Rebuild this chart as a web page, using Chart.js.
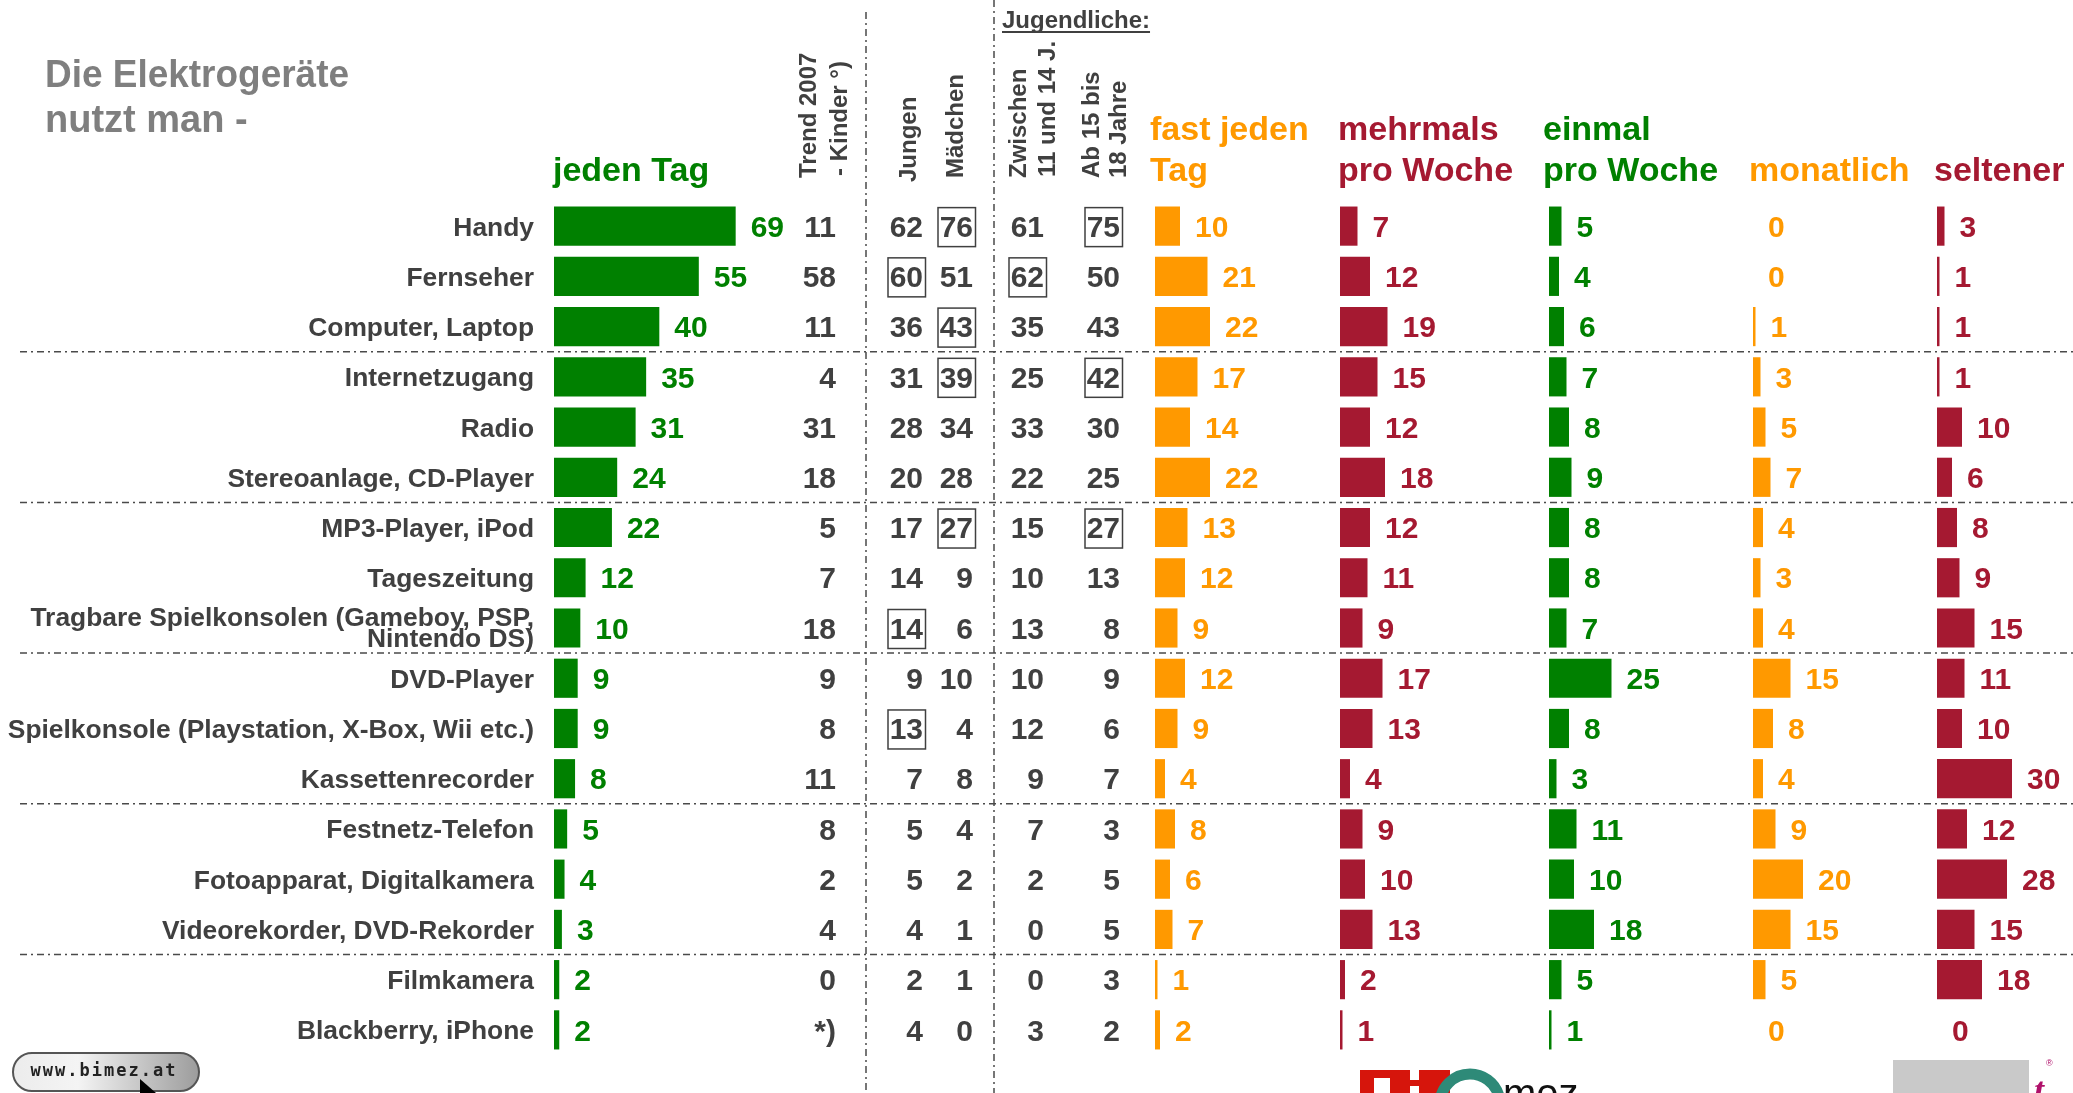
<!DOCTYPE html>
<html>
<head>
<meta charset="utf-8">
<script src="https://cdn.jsdelivr.net/npm/chart.js@4/dist/chart.umd.min.js"></script>
<style>
  html, body { margin: 0; padding: 0; background: #fff; overflow: hidden; }
  canvas { display: block; }
</style>
</head>
<body>
<canvas id="chart" width="2073" height="1093"></canvas>
<script>
// Geräte (Zeilen)
const geraete = ['Handy', 'Fernseher', 'Computer, Laptop', 'Internetzugang', 'Radio',
  'Stereoanlage, CD-Player', 'MP3-Player, iPod', 'Tageszeitung',
  'Tragbare Spielkonsolen (Gameboy, PSP,\nNintendo DS)', 'DVD-Player',
  'Spielkonsole (Playstation, X-Box, Wii etc.)', 'Kassettenrecorder', 'Festnetz-Telefon',
  'Fotoapparat, Digitalkamera', 'Videorekorder, DVD-Rekorder', 'Filmkamera', 'Blackberry, iPhone'];

// Nutzungshäufigkeit in %
const jedenTag         = [69, 55, 40, 35, 31, 24, 22, 12, 10,  9,  9,  8,  5,  4,  3,  2, 2];
const fastJedenTag     = [10, 21, 22, 17, 14, 22, 13, 12,  9, 12,  9,  4,  8,  6,  7,  1, 2];
const mehrmalsProWoche = [ 7, 12, 19, 15, 12, 18, 12, 11,  9, 17, 13,  4,  9, 10, 13,  2, 1];
const einmalProWoche   = [ 5,  4,  6,  7,  8,  9,  8,  8,  7, 25,  8,  3, 11, 10, 18,  5, 1];
const monatlich        = [ 0,  0,  1,  3,  5,  7,  4,  3,  4, 15,  8,  4,  9, 20, 15,  5, 0];
const seltener         = [ 3,  1,  1,  1, 10,  6,  8,  9, 15, 11, 10, 30, 12, 28, 15, 18, 0];

// "jeden Tag" nach Gruppen
const trend2007     = [11, 58, 11,  4, 31, 18,  5,  7, 18,  9,  8, 11,  8,  2,  4,  0, '*)'];
const jungen        = [62, 60, 36, 31, 28, 20, 17, 14, 14,  9, 13,  7,  5,  5,  4,  2, 4];
const maedchen      = [76, 51, 43, 39, 34, 28, 27,  9,  6, 10,  4,  8,  4,  2,  1,  1, 0];
const jugend11bis14 = [61, 62, 35, 25, 33, 22, 15, 10, 13, 10, 12,  9,  7,  2,  0,  0, 3];
const jugend15bis18 = [75, 50, 43, 42, 30, 25, 27, 13,  8,  9,  6,  7,  3,  5,  5,  3, 2];

// eingerahmte Werte (Zeilenindex)
const boxJungen   = [1, 8, 10];
const boxMaedchen = [0, 2, 3, 6];
const boxJugend11 = [1];
const boxJugend15 = [0, 3, 6];

// Trennlinien nach diesen Zeilen
const gruppenEnde = [2, 5, 8, 11, 14];

const W = 2073, H = 1093;
const GRUEN = '#008000', ORANGE = '#ff9900', ROT = '#a51931', DUNKEL = '#404040';
const font = s => `bold ${s}px "Liberation Sans", Arial, Helvetica, sans-serif`;

const barSpalten = [
  { werte: jedenTag,         farbe: GRUEN,  basis: 554,  proEinheit: 2.633, kopf: ['jeden Tag'],            kopfX: 553 },
  { werte: fastJedenTag,     farbe: ORANGE, basis: 1155, proEinheit: 2.5,   kopf: ['fast jeden', 'Tag'],    kopfX: 1150 },
  { werte: mehrmalsProWoche, farbe: ROT,    basis: 1340, proEinheit: 2.5,   kopf: ['mehrmals', 'pro Woche'], kopfX: 1338 },
  { werte: einmalProWoche,   farbe: GRUEN,  basis: 1549, proEinheit: 2.5,   kopf: ['einmal', 'pro Woche'],  kopfX: 1543 },
  { werte: monatlich,        farbe: ORANGE, basis: 1753, proEinheit: 2.5,   kopf: ['monatlich'],            kopfX: 1749 },
  { werte: seltener,         farbe: ROT,    basis: 1937, proEinheit: 2.5,   kopf: ['seltener'],             kopfX: 1934 },
];

const tabSpalten = [
  { werte: trend2007,     rechts: 836,  box: [] },
  { werte: jungen,        rechts: 923,  box: boxJungen },
  { werte: maedchen,      rechts: 973,  box: boxMaedchen },
  { werte: jugend11bis14, rechts: 1044, box: boxJugend11 },
  { werte: jugend15bis18, rechts: 1120, box: boxJugend15 },
];

const kopfGedreht = [
  ['Trend 2007', 808, 178], ['- Kinder °)', 839, 176], ['Jungen', 908, 182], ['Mädchen', 955, 178],
  ['Zwischen', 1018, 178], ['11 und 14 J.', 1047, 177], ['Ab 15 bis', 1091, 178], ['18 Jahre', 1118, 178]
];

function strichPunkt(ctx, x1, y1, x2, y2) {
  ctx.save();
  ctx.strokeStyle = '#4a4a4a';
  ctx.lineWidth = 1.5;
  ctx.setLineDash([7, 4, 2, 4]);
  ctx.beginPath();
  ctx.moveTo(x1, y1);
  ctx.lineTo(x2, y2);
  ctx.stroke();
  ctx.restore();
}

const overlay = {
  id: 'overlay',
  afterDatasetsDraw(chart) {
    const ctx = chart.ctx;
    const yScale = chart.scales.y;
    const py = i => yScale.getPixelForValue(i);
    ctx.save();

    // Titel
    ctx.fillStyle = '#7f7f7f';
    ctx.font = font(38);
    ctx.textAlign = 'left';
    ctx.textBaseline = 'alphabetic';
    ctx.fillText('Die Elektrogeräte', 45, 87, 304);
    ctx.fillText('nutzt man -', 45, 132);

    // Kopfzeilen der Balkenspalten
    ctx.font = font(34);
    barSpalten.forEach(s => {
      ctx.fillStyle = s.farbe;
      if (s.kopf.length === 2) {
        ctx.fillText(s.kopf[0], s.kopfX, 140);
        ctx.fillText(s.kopf[1], s.kopfX, 181);
      } else {
        ctx.fillText(s.kopf[0], s.kopfX, 181);
      }
    });

    // Jugendliche:
    ctx.fillStyle = DUNKEL;
    ctx.font = font(24);
    ctx.fillText('Jugendliche:', 1002, 28);
    const jw = ctx.measureText('Jugendliche:').width;
    ctx.fillRect(1002, 31, jw, 2);

    // gedrehte Spaltenköpfe
    kopfGedreht.forEach(([t, x, y0]) => {
      ctx.save();
      ctx.translate(x, y0);
      ctx.rotate(-Math.PI / 2);
      ctx.textBaseline = 'middle';
      ctx.textAlign = 'left';
      ctx.fillText(t, 0, 1);
      ctx.restore();
    });

    // Gerätenamen
    ctx.font = font(26.4);
    ctx.textAlign = 'right';
    ctx.textBaseline = 'alphabetic';
    ctx.fillStyle = DUNKEL;
    geraete.forEach((g, i) => {
      const y = py(i);
      const zeilen = g.split('\n');
      if (zeilen.length === 2) {
        ctx.fillText(zeilen[0], 534, y - 12 + 9.5);
        ctx.fillText(zeilen[1], 534, y + 9 + 9.5);
      } else {
        ctx.fillText(g, 534, y + 9.5);
      }
    });

    // Tabellenwerte
    ctx.font = font(30);
    tabSpalten.forEach(s => {
      s.werte.forEach((v, i) => {
        const y = py(i);
        ctx.fillStyle = DUNKEL;
        ctx.fillText(String(v), s.rechts, y + 10.7);
        if (s.box.includes(i)) {
          ctx.strokeStyle = DUNKEL;
          ctx.lineWidth = 1.5;
          ctx.strokeRect(s.rechts - 35, y - 18.5, 37.5, 39);
        }
      });
    });

    // Werte neben den Balken
    ctx.textAlign = 'left';
    chart.data.datasets.forEach((ds, k) => {
      const meta = chart.getDatasetMeta(k);
      ctx.fillStyle = ds.backgroundColor;
      meta.data.forEach((el, i) => {
        ctx.fillText(String(ds.data[i]), el.x + 15, el.y + 10.7);
      });
    });

    // Trennlinien
    gruppenEnde.forEach(i => {
      const y = (py(i) + py(i + 1)) / 2;
      strichPunkt(ctx, 20, y, W, y);
    });
    strichPunkt(ctx, 866, 12, 866, H);
    strichPunkt(ctx, 994, 0, 994, H);

    // www.bimez.at Knopf
    const g = ctx.createLinearGradient(13, 0, 199, 0);
    g.addColorStop(0, '#ececec');
    g.addColorStop(0.35, '#f4f4f4');
    g.addColorStop(1, '#9c9c9c');
    ctx.beginPath();
    ctx.roundRect(13, 1053, 186, 38, 19);
    ctx.fillStyle = g;
    ctx.fill();
    ctx.strokeStyle = '#555';
    ctx.lineWidth = 2;
    ctx.stroke();
    ctx.fillStyle = '#222';
    ctx.font = 'bold 17px "DejaVu Sans Mono", monospace';
    ctx.letterSpacing = '2px';
    ctx.textAlign = 'center';
    ctx.fillText('www.bimez.at', 104, 1076);
    ctx.letterSpacing = '0px';
    ctx.beginPath();
    ctx.moveTo(140, 1079);
    ctx.lineTo(140, 1093);
    ctx.lineTo(156, 1093);
    ctx.closePath();
    ctx.fillStyle = '#000';
    ctx.fill();

    // bimez Logo (angeschnitten)
    ctx.fillStyle = '#d6150c';
    ctx.fillRect(1360, 1070, 90, 23);
    ctx.fillStyle = '#fff';
    ctx.fillRect(1374, 1078, 16, 15);
    ctx.fillRect(1410, 1070, 9, 10);
    ctx.fillRect(1410, 1086, 9, 7);
    ctx.strokeStyle = '#2e8a78';
    ctx.lineWidth = 11;
    ctx.beginPath();
    ctx.arc(1470, 1104, 30, Math.PI * 1.0, Math.PI * 1.9);
    ctx.stroke();
    ctx.fillStyle = '#111';
    ctx.font = '40px "Liberation Sans", Arial, sans-serif';
    ctx.textAlign = 'left';
    ctx.fillText('mez', 1503, 1107);

    // rechter Rand unten
    ctx.fillStyle = '#c9c9c9';
    ctx.fillRect(1893, 1060, 136, 33);
    ctx.fillStyle = '#b0106a';
    ctx.font = 'italic bold 36px "Liberation Serif", serif';
    ctx.fillText('t', 2034, 1102);
    ctx.font = '9px "Liberation Sans", Arial, sans-serif';
    ctx.fillText('®', 2046, 1066);

    ctx.restore();
  }
};

const scales = {
  y: { type: 'category', display: false, offset: true, grid: { display: false } }
};
barSpalten.forEach((s, k) => {
  scales['x' + k] = {
    type: 'linear',
    display: false,
    min: -s.basis / s.proEinheit,
    max: (W - s.basis) / s.proEinheit
  };
});

new Chart(document.getElementById('chart'), {
  type: 'bar',
  data: {
    labels: geraete,
    datasets: barSpalten.map((s, k) => ({
      data: s.werte,
      xAxisID: 'x' + k,
      backgroundColor: s.farbe,
      borderWidth: 0,
      grouped: false,
      barPercentage: 0.78,
      categoryPercentage: 1
    }))
  },
  options: {
    indexAxis: 'y',
    responsive: false,
    animation: false,
    events: [],
    layout: { padding: { top: 201, bottom: 38, left: 0, right: 0 } },
    plugins: { legend: { display: false }, tooltip: { enabled: false } },
    scales
  },
  plugins: [overlay]
});
</script>
</body>
</html>
